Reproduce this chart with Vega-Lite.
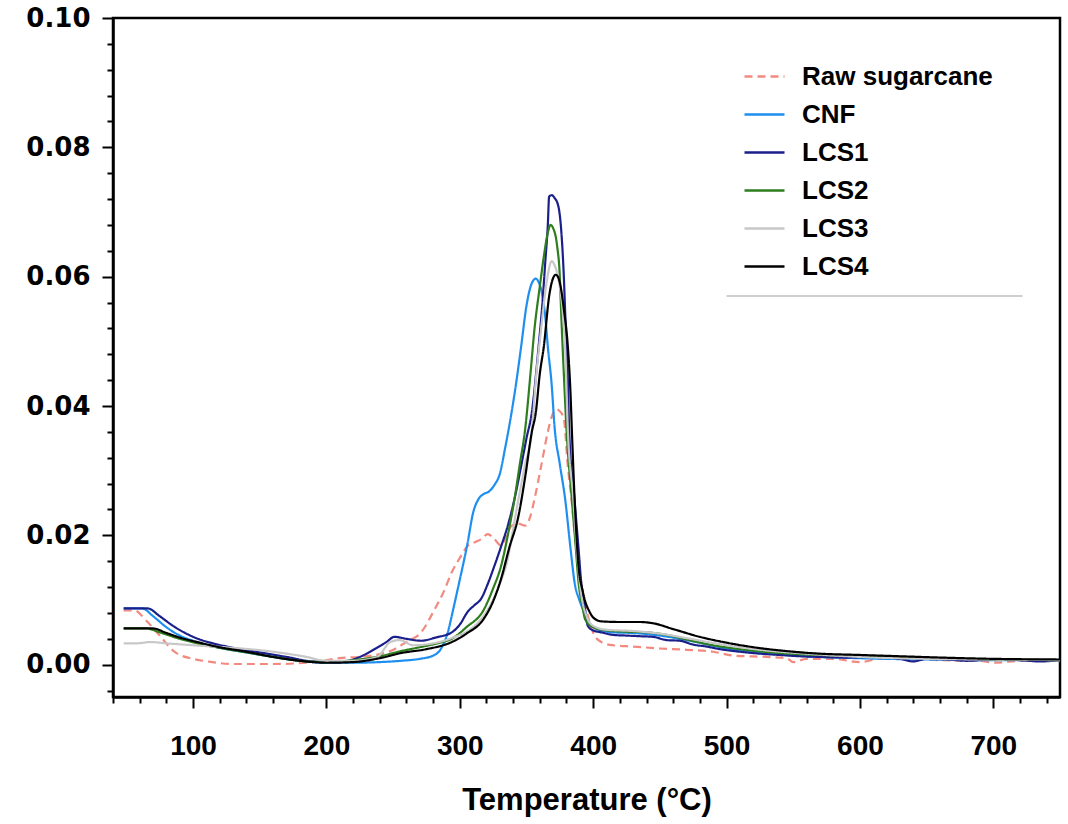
{
  "$schema": "https://vega.github.io/schema/vega-lite/v6.json",
  "width": 947,
  "height": 679,
  "autosize": {"type": "none"},
  "padding": {"left": 113, "top": 18, "right": 8, "bottom": 127},
  "background": "white",
  "config": {
    "view": {"stroke": "black", "strokeWidth": 2.5},
    "axis": {"grid": false, "domainColor": "black", "domainWidth": 2.5, "tickColor": "black", "tickWidth": 2, "labelColor": "black", "titleColor": "black"}
  },
  "datasets": {
    "main": [
      {"series":"Raw sugarcane","T":48,"v":0.0084},{"series":"Raw sugarcane","T":56,"v":0.0084},{"series":"Raw sugarcane","T":65,"v":0.0068},{"series":"Raw sugarcane","T":75,"v":0.0045},{"series":"Raw sugarcane","T":86,"v":0.002},{"series":"Raw sugarcane","T":100,"v":0.0009},{"series":"Raw sugarcane","T":111,"v":0.0005},{"series":"Raw sugarcane","T":130,"v":0.0001},{"series":"Raw sugarcane","T":160,"v":0.0001},{"series":"Raw sugarcane","T":190,"v":0.0004},{"series":"Raw sugarcane","T":210,"v":0.001},{"series":"Raw sugarcane","T":230,"v":0.0013},{"series":"Raw sugarcane","T":249,"v":0.0022},{"series":"Raw sugarcane","T":260,"v":0.0035},{"series":"Raw sugarcane","T":271,"v":0.005},{"series":"Raw sugarcane","T":281,"v":0.0085},{"series":"Raw sugarcane","T":288,"v":0.0113},{"series":"Raw sugarcane","T":294,"v":0.0143},{"series":"Raw sugarcane","T":300,"v":0.0165},{"series":"Raw sugarcane","T":306,"v":0.0184},{"series":"Raw sugarcane","T":312,"v":0.019},{"series":"Raw sugarcane","T":316,"v":0.0194},{"series":"Raw sugarcane","T":321,"v":0.0202},{"series":"Raw sugarcane","T":326,"v":0.0194},{"series":"Raw sugarcane","T":331,"v":0.0184},{"series":"Raw sugarcane","T":335,"v":0.02},{"series":"Raw sugarcane","T":339,"v":0.0215},{"series":"Raw sugarcane","T":344,"v":0.0218},{"series":"Raw sugarcane","T":349,"v":0.0215},{"series":"Raw sugarcane","T":353,"v":0.023},{"series":"Raw sugarcane","T":356,"v":0.0256},{"series":"Raw sugarcane","T":361,"v":0.0307},{"series":"Raw sugarcane","T":366,"v":0.036},{"series":"Raw sugarcane","T":369,"v":0.0384},{"series":"Raw sugarcane","T":372,"v":0.0395},{"series":"Raw sugarcane","T":375,"v":0.0392},{"series":"Raw sugarcane","T":378,"v":0.038},{"series":"Raw sugarcane","T":381,"v":0.0307},{"series":"Raw sugarcane","T":384,"v":0.025},{"series":"Raw sugarcane","T":386,"v":0.0205},{"series":"Raw sugarcane","T":391,"v":0.0128},{"series":"Raw sugarcane","T":396,"v":0.0076},{"series":"Raw sugarcane","T":401,"v":0.0045},{"series":"Raw sugarcane","T":407,"v":0.0034},{"series":"Raw sugarcane","T":415,"v":0.003},{"series":"Raw sugarcane","T":430,"v":0.0028},{"series":"Raw sugarcane","T":450,"v":0.0025},{"series":"Raw sugarcane","T":470,"v":0.0023},{"series":"Raw sugarcane","T":490,"v":0.002},{"series":"Raw sugarcane","T":505,"v":0.0014},{"series":"Raw sugarcane","T":530,"v":0.0012},{"series":"Raw sugarcane","T":545,"v":0.001},{"series":"Raw sugarcane","T":550,"v":0.0004},{"series":"Raw sugarcane","T":560,"v":0.0009},{"series":"Raw sugarcane","T":580,"v":0.0009},{"series":"Raw sugarcane","T":600,"v":0.0004},{"series":"Raw sugarcane","T":615,"v":0.0009},{"series":"Raw sugarcane","T":640,"v":0.0009},{"series":"Raw sugarcane","T":660,"v":0.0007},{"series":"Raw sugarcane","T":690,"v":0.0006},{"series":"Raw sugarcane","T":700,"v":0.0003},{"series":"Raw sugarcane","T":720,"v":0.0006},{"series":"Raw sugarcane","T":750,"v":0.0007},
      {"series":"CNF","T":48,"v":0.0087},{"series":"CNF","T":62,"v":0.0087},{"series":"CNF","T":70,"v":0.0075},{"series":"CNF","T":80,"v":0.0058},{"series":"CNF","T":90,"v":0.0045},{"series":"CNF","T":100,"v":0.0037},{"series":"CNF","T":110,"v":0.0031},{"series":"CNF","T":125,"v":0.0024},{"series":"CNF","T":140,"v":0.0019},{"series":"CNF","T":160,"v":0.0012},{"series":"CNF","T":180,"v":0.0006},{"series":"CNF","T":200,"v":0.0003},{"series":"CNF","T":220,"v":0.0003},{"series":"CNF","T":240,"v":0.0004},{"series":"CNF","T":256,"v":0.0006},{"series":"CNF","T":270,"v":0.0009},{"series":"CNF","T":280,"v":0.0014},{"series":"CNF","T":286,"v":0.0025},{"series":"CNF","T":291,"v":0.005},{"series":"CNF","T":295,"v":0.0085},{"series":"CNF","T":299,"v":0.0122},{"series":"CNF","T":306,"v":0.019},{"series":"CNF","T":310,"v":0.0235},{"series":"CNF","T":314,"v":0.0256},{"series":"CNF","T":318,"v":0.0264},{"series":"CNF","T":322,"v":0.0268},{"series":"CNF","T":326,"v":0.0278},{"series":"CNF","T":330,"v":0.0295},{"series":"CNF","T":334,"v":0.0335},{"series":"CNF","T":338,"v":0.038},{"series":"CNF","T":342,"v":0.0432},{"series":"CNF","T":346,"v":0.0492},{"series":"CNF","T":350,"v":0.0555},{"series":"CNF","T":354,"v":0.059},{"series":"CNF","T":357,"v":0.0597},{"series":"CNF","T":359,"v":0.0592},{"series":"CNF","T":361,"v":0.058},{"series":"CNF","T":364,"v":0.054},{"series":"CNF","T":366,"v":0.0492},{"series":"CNF","T":369,"v":0.043},{"series":"CNF","T":371,"v":0.0369},{"series":"CNF","T":375,"v":0.031},{"series":"CNF","T":379,"v":0.0256},{"series":"CNF","T":383,"v":0.018},{"series":"CNF","T":386,"v":0.0128},{"series":"CNF","T":390,"v":0.0098},{"series":"CNF","T":393,"v":0.0082},{"series":"CNF","T":399,"v":0.006},{"series":"CNF","T":406,"v":0.0053},{"series":"CNF","T":415,"v":0.005},{"series":"CNF","T":430,"v":0.0049},{"series":"CNF","T":450,"v":0.0045},{"series":"CNF","T":475,"v":0.0036},{"series":"CNF","T":500,"v":0.0025},{"series":"CNF","T":530,"v":0.0018},{"series":"CNF","T":560,"v":0.0013},{"series":"CNF","T":600,"v":0.001},{"series":"CNF","T":650,"v":0.0008},{"series":"CNF","T":700,"v":0.0007},{"series":"CNF","T":750,"v":0.0007},
      {"series":"LCS1","T":48,"v":0.0087},{"series":"LCS1","T":66,"v":0.0087},{"series":"LCS1","T":75,"v":0.0075},{"series":"LCS1","T":85,"v":0.006},{"series":"LCS1","T":95,"v":0.0048},{"series":"LCS1","T":105,"v":0.0039},{"series":"LCS1","T":115,"v":0.0033},{"series":"LCS1","T":130,"v":0.0026},{"series":"LCS1","T":150,"v":0.0019},{"series":"LCS1","T":170,"v":0.0012},{"series":"LCS1","T":190,"v":0.0005},{"series":"LCS1","T":210,"v":0.0004},{"series":"LCS1","T":225,"v":0.0012},{"series":"LCS1","T":237,"v":0.0025},{"series":"LCS1","T":245,"v":0.0035},{"series":"LCS1","T":251,"v":0.0043},{"series":"LCS1","T":260,"v":0.004},{"series":"LCS1","T":271,"v":0.0037},{"series":"LCS1","T":282,"v":0.0042},{"series":"LCS1","T":294,"v":0.005},{"series":"LCS1","T":300,"v":0.0062},{"series":"LCS1","T":306,"v":0.0082},{"series":"LCS1","T":311,"v":0.0092},{"series":"LCS1","T":316,"v":0.0102},{"series":"LCS1","T":321,"v":0.0125},{"series":"LCS1","T":326,"v":0.0153},{"series":"LCS1","T":331,"v":0.0183},{"series":"LCS1","T":336,"v":0.0215},{"series":"LCS1","T":341,"v":0.0256},{"series":"LCS1","T":346,"v":0.0307},{"series":"LCS1","T":350,"v":0.035},{"series":"LCS1","T":354,"v":0.039},{"series":"LCS1","T":359,"v":0.049},{"series":"LCS1","T":362,"v":0.056},{"series":"LCS1","T":364,"v":0.062},{"series":"LCS1","T":366,"v":0.068},{"series":"LCS1","T":367,"v":0.0724},{"series":"LCS1","T":369,"v":0.0726},{"series":"LCS1","T":371,"v":0.0722},{"series":"LCS1","T":374,"v":0.0708},{"series":"LCS1","T":376,"v":0.0673},{"series":"LCS1","T":378,"v":0.06},{"series":"LCS1","T":379,"v":0.0545},{"series":"LCS1","T":381,"v":0.044},{"series":"LCS1","T":382,"v":0.0364},{"series":"LCS1","T":386,"v":0.0256},{"series":"LCS1","T":389,"v":0.018},{"series":"LCS1","T":391,"v":0.0128},{"series":"LCS1","T":394,"v":0.0085},{"series":"LCS1","T":396,"v":0.006},{"series":"LCS1","T":400,"v":0.0053},{"series":"LCS1","T":406,"v":0.005},{"series":"LCS1","T":415,"v":0.0046},{"series":"LCS1","T":425,"v":0.0045},{"series":"LCS1","T":435,"v":0.0044},{"series":"LCS1","T":445,"v":0.0043},{"series":"LCS1","T":455,"v":0.0038},{"series":"LCS1","T":465,"v":0.0037},{"series":"LCS1","T":475,"v":0.0031},{"series":"LCS1","T":485,"v":0.0028},{"series":"LCS1","T":495,"v":0.0024},{"series":"LCS1","T":510,"v":0.002},{"series":"LCS1","T":525,"v":0.0017},{"series":"LCS1","T":540,"v":0.0015},{"series":"LCS1","T":555,"v":0.0013},{"series":"LCS1","T":570,"v":0.0012},{"series":"LCS1","T":590,"v":0.0011},{"series":"LCS1","T":610,"v":0.0012},{"series":"LCS1","T":630,"v":0.0009},{"series":"LCS1","T":640,"v":0.0005},{"series":"LCS1","T":650,"v":0.0009},{"series":"LCS1","T":665,"v":0.0008},{"series":"LCS1","T":680,"v":0.0006},{"series":"LCS1","T":700,"v":0.0008},{"series":"LCS1","T":720,"v":0.0007},{"series":"LCS1","T":735,"v":0.0005},{"series":"LCS1","T":750,"v":0.0007},
      {"series":"LCS2","T":48,"v":0.0056},{"series":"LCS2","T":65,"v":0.0056},{"series":"LCS2","T":75,"v":0.005},{"series":"LCS2","T":90,"v":0.004},{"series":"LCS2","T":105,"v":0.0032},{"series":"LCS2","T":120,"v":0.0026},{"series":"LCS2","T":140,"v":0.0019},{"series":"LCS2","T":160,"v":0.0012},{"series":"LCS2","T":180,"v":0.0006},{"series":"LCS2","T":200,"v":0.0004},{"series":"LCS2","T":220,"v":0.0007},{"series":"LCS2","T":240,"v":0.0013},{"series":"LCS2","T":256,"v":0.0021},{"series":"LCS2","T":270,"v":0.0027},{"series":"LCS2","T":285,"v":0.0034},{"series":"LCS2","T":294,"v":0.004},{"series":"LCS2","T":305,"v":0.0058},{"series":"LCS2","T":318,"v":0.0085},{"series":"LCS2","T":325,"v":0.0118},{"series":"LCS2","T":331,"v":0.0153},{"series":"LCS2","T":336,"v":0.02},{"series":"LCS2","T":341,"v":0.0256},{"series":"LCS2","T":345,"v":0.031},{"series":"LCS2","T":349,"v":0.0364},{"series":"LCS2","T":353,"v":0.045},{"series":"LCS2","T":356,"v":0.0519},{"series":"LCS2","T":360,"v":0.0585},{"series":"LCS2","T":363,"v":0.0631},{"series":"LCS2","T":366,"v":0.0668},{"series":"LCS2","T":368,"v":0.068},{"series":"LCS2","T":370,"v":0.0675},{"series":"LCS2","T":373,"v":0.0647},{"series":"LCS2","T":375,"v":0.06},{"series":"LCS2","T":376,"v":0.0545},{"series":"LCS2","T":378,"v":0.045},{"series":"LCS2","T":380,"v":0.0364},{"series":"LCS2","T":384,"v":0.0256},{"series":"LCS2","T":387,"v":0.018},{"series":"LCS2","T":389,"v":0.0128},{"series":"LCS2","T":392,"v":0.009},{"series":"LCS2","T":394,"v":0.007},{"series":"LCS2","T":400,"v":0.0058},{"series":"LCS2","T":410,"v":0.0053},{"series":"LCS2","T":425,"v":0.0051},{"series":"LCS2","T":440,"v":0.005},{"series":"LCS2","T":455,"v":0.0046},{"series":"LCS2","T":470,"v":0.0039},{"series":"LCS2","T":490,"v":0.003},{"series":"LCS2","T":510,"v":0.0024},{"series":"LCS2","T":540,"v":0.0018},{"series":"LCS2","T":570,"v":0.0015},{"series":"LCS2","T":600,"v":0.0013},{"series":"LCS2","T":650,"v":0.001},{"series":"LCS2","T":700,"v":0.0008},{"series":"LCS2","T":750,"v":0.0007},
      {"series":"LCS3","T":48,"v":0.0033},{"series":"LCS3","T":58,"v":0.0033},{"series":"LCS3","T":68,"v":0.0035},{"series":"LCS3","T":80,"v":0.0033},{"series":"LCS3","T":100,"v":0.003},{"series":"LCS3","T":130,"v":0.0026},{"series":"LCS3","T":160,"v":0.002},{"series":"LCS3","T":185,"v":0.0012},{"series":"LCS3","T":200,"v":0.0006},{"series":"LCS3","T":220,"v":0.0006},{"series":"LCS3","T":238,"v":0.0012},{"series":"LCS3","T":248,"v":0.0035},{"series":"LCS3","T":255,"v":0.0038},{"series":"LCS3","T":265,"v":0.003},{"series":"LCS3","T":280,"v":0.0033},{"series":"LCS3","T":295,"v":0.0042},{"series":"LCS3","T":310,"v":0.0058},{"series":"LCS3","T":320,"v":0.0082},{"series":"LCS3","T":330,"v":0.0125},{"series":"LCS3","T":336,"v":0.0164},{"series":"LCS3","T":340,"v":0.021},{"series":"LCS3","T":344,"v":0.0256},{"series":"LCS3","T":349,"v":0.031},{"series":"LCS3","T":354,"v":0.036},{"series":"LCS3","T":357,"v":0.044},{"series":"LCS3","T":361,"v":0.052},{"series":"LCS3","T":365,"v":0.059},{"series":"LCS3","T":369,"v":0.0624},{"series":"LCS3","T":371,"v":0.0618},{"series":"LCS3","T":374,"v":0.0596},{"series":"LCS3","T":377,"v":0.055},{"series":"LCS3","T":379,"v":0.049},{"series":"LCS3","T":381,"v":0.0364},{"series":"LCS3","T":385,"v":0.026},{"series":"LCS3","T":388,"v":0.017},{"series":"LCS3","T":391,"v":0.011},{"series":"LCS3","T":395,"v":0.0075},{"series":"LCS3","T":400,"v":0.006},{"series":"LCS3","T":410,"v":0.0054},{"series":"LCS3","T":430,"v":0.0052},{"series":"LCS3","T":450,"v":0.0048},{"series":"LCS3","T":470,"v":0.0041},{"series":"LCS3","T":500,"v":0.003},{"series":"LCS3","T":530,"v":0.0022},{"series":"LCS3","T":560,"v":0.0017},{"series":"LCS3","T":600,"v":0.0012},{"series":"LCS3","T":650,"v":0.0009},{"series":"LCS3","T":700,"v":0.0008},{"series":"LCS3","T":750,"v":0.0007},
      {"series":"LCS4","T":48,"v":0.0056},{"series":"LCS4","T":70,"v":0.0056},{"series":"LCS4","T":80,"v":0.0049},{"series":"LCS4","T":90,"v":0.0042},{"series":"LCS4","T":105,"v":0.0034},{"series":"LCS4","T":120,"v":0.0027},{"series":"LCS4","T":140,"v":0.002},{"series":"LCS4","T":160,"v":0.0012},{"series":"LCS4","T":180,"v":0.0006},{"series":"LCS4","T":200,"v":0.0003},{"series":"LCS4","T":220,"v":0.0004},{"series":"LCS4","T":240,"v":0.001},{"series":"LCS4","T":256,"v":0.0018},{"series":"LCS4","T":275,"v":0.0024},{"series":"LCS4","T":294,"v":0.0035},{"series":"LCS4","T":305,"v":0.0048},{"series":"LCS4","T":318,"v":0.0071},{"series":"LCS4","T":325,"v":0.0098},{"series":"LCS4","T":331,"v":0.0133},{"series":"LCS4","T":337,"v":0.018},{"series":"LCS4","T":344,"v":0.023},{"series":"LCS4","T":349,"v":0.029},{"series":"LCS4","T":354,"v":0.036},{"series":"LCS4","T":357,"v":0.039},{"series":"LCS4","T":360,"v":0.045},{"series":"LCS4","T":363,"v":0.0492},{"series":"LCS4","T":367,"v":0.057},{"series":"LCS4","T":370,"v":0.0598},{"series":"LCS4","T":372,"v":0.0603},{"series":"LCS4","T":374,"v":0.0598},{"series":"LCS4","T":376,"v":0.058},{"series":"LCS4","T":378,"v":0.055},{"series":"LCS4","T":381,"v":0.0492},{"series":"LCS4","T":383,"v":0.042},{"series":"LCS4","T":384,"v":0.0364},{"series":"LCS4","T":386,"v":0.026},{"series":"LCS4","T":389,"v":0.0153},{"series":"LCS4","T":392,"v":0.0115},{"series":"LCS4","T":394,"v":0.0098},{"series":"LCS4","T":397,"v":0.0083},{"series":"LCS4","T":400,"v":0.0073},{"series":"LCS4","T":406,"v":0.0067},{"series":"LCS4","T":420,"v":0.0066},{"series":"LCS4","T":435,"v":0.0066},{"series":"LCS4","T":445,"v":0.0064},{"series":"LCS4","T":460,"v":0.0055},{"series":"LCS4","T":480,"v":0.0043},{"series":"LCS4","T":500,"v":0.0034},{"series":"LCS4","T":520,"v":0.0027},{"series":"LCS4","T":545,"v":0.0021},{"series":"LCS4","T":570,"v":0.0017},{"series":"LCS4","T":600,"v":0.0015},{"series":"LCS4","T":630,"v":0.0013},{"series":"LCS4","T":660,"v":0.0011},{"series":"LCS4","T":700,"v":0.0009},{"series":"LCS4","T":750,"v":0.0008}
    ],
    "underline": [{"x1": 500, "x2": 722, "y": 0.057}]
  },
  "resolve": {"axis": {"x": "independent", "y": "independent"}},
  "layer": [
    {
      "data": {"name": "main"},
      "mark": {"type": "point", "opacity": 0, "size": 1},
      "encoding": {
        "x": {"field": "T", "type": "quantitative", "scale": {"domain": [40, 750], "nice": false, "zero": false},
          "axis": {"orient": "bottom", "values": [40,60,80,120,140,160,180,220,240,260,280,320,340,360,380,420,440,460,480,520,540,560,580,620,640,660,680,720,740], "labels": false, "tickSize": 6, "domain": false, "title": null}},
        "y": {"field": "v", "type": "quantitative", "scale": {"domain": [-0.005, 0.1], "nice": false, "zero": false},
          "axis": {"orient": "left", "values": [-0.004,0.004,0.008,0.012,0.016,0.024,0.028,0.032,0.036,0.044,0.048,0.052,0.056,0.064,0.068,0.072,0.076,0.084,0.088,0.092,0.096], "labels": false, "tickSize": 6, "domain": false, "title": null}}
      }
    },
    {
      "data": {"name": "main"},
      "mark": {"type": "line", "strokeWidth": 2.2, "interpolate": "monotone"},
      "encoding": {
        "x": {"field": "T", "type": "quantitative",
          "axis": {"orient": "bottom", "values": [100,200,300,400,500,600,700], "tickSize": 11, "labelFont": "Liberation Sans", "labelFontWeight": "bold", "labelFontSize": 28, "labelPadding": 24, "title": "Temperature (°C)", "titleFont": "Liberation Sans", "titleFontWeight": "bold", "titleFontSize": 31, "titlePadding": 25}},
        "y": {"field": "v", "type": "quantitative",
          "axis": {"orient": "left", "values": [0, 0.02, 0.04, 0.06, 0.08, 0.1], "format": ".2f", "tickSize": 11, "labelFont": "DejaVu Sans", "labelFontWeight": "bold", "labelFontSize": 26, "labelPadding": 12, "title": null}},
        "color": {"field": "series", "type": "nominal",
          "scale": {"domain": ["Raw sugarcane", "CNF", "LCS1", "LCS2", "LCS3", "LCS4"], "range": ["#f38a80", "#1e8ff0", "#1b1f8a", "#2e7d1e", "#c8c8c8", "#000000"]},
          "legend": {"orient": "none", "legendX": 630, "legendY": 37, "title": null, "symbolType": "stroke", "symbolSize": 1600, "symbolStrokeWidth": 2.5, "labelFont": "Liberation Sans", "labelFontWeight": "bold", "labelFontSize": 26, "labelColor": "black", "labelOffset": 16, "labelLimit": 400, "rowPadding": 3}},
        "strokeDash": {"field": "series", "type": "nominal",
          "scale": {"domain": ["Raw sugarcane", "CNF", "LCS1", "LCS2", "LCS3", "LCS4"], "range": [[8, 5], [1, 0], [1, 0], [1, 0], [1, 0], [1, 0]]},
          "legend": {"orient": "none", "legendX": 630, "legendY": 37, "title": null, "symbolType": "stroke", "symbolSize": 1600, "symbolStrokeWidth": 2.5, "labelFont": "Liberation Sans", "labelFontWeight": "bold", "labelFontSize": 26, "labelColor": "black", "labelOffset": 16, "labelLimit": 400, "rowPadding": 3}}
      }
    },
    {
      "data": {"name": "underline"},
      "mark": {"type": "rule", "color": "#bfbfbf", "strokeWidth": 1.5},
      "encoding": {
        "x": {"field": "x1", "type": "quantitative", "axis": null},
        "x2": {"field": "x2"},
        "y": {"field": "y", "type": "quantitative", "axis": null}
      }
    }
  ]
}
